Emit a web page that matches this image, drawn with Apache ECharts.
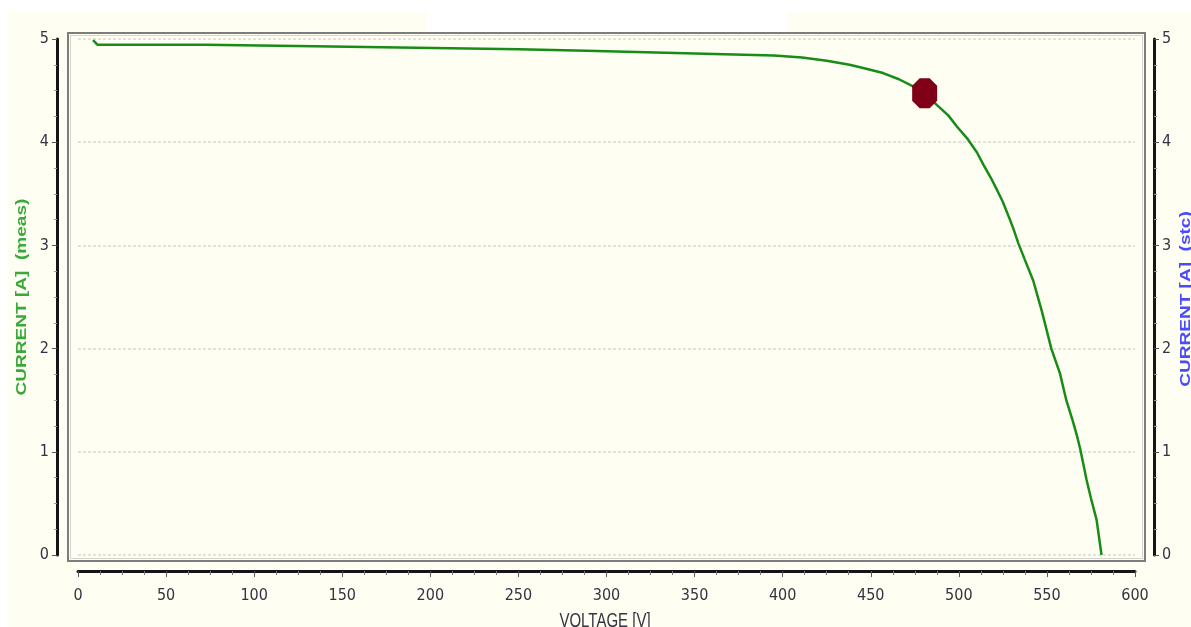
<!DOCTYPE html>
<html>
<head>
<meta charset="utf-8">
<script src="https://cdn.jsdelivr.net/npm/echarts@6/dist/echarts.min.js"></script>
<style>html,body{margin:0;padding:0;background:#fff;}#c{width:1191px;height:627px;}</style>
</head>
<body>
<div id="c"></div>
<script>
// I-V curve data (voltage V, current A)
var voltage = [8.5, 11, 72, 73, 134, 135, 192, 193, 250, 251, 289, 290, 328, 329, 361, 362, 395, 396, 411,
  425, 438, 448, 457, 466, 474, 480.6, 487.6, 494, 499, 504.6, 510.3, 514, 518, 521.6, 525, 529, 531,
  533.8, 537.5, 542.2, 547, 552.5, 557.4, 561, 564.5, 567, 569, 572.5, 575, 578.2, 581];
var current = [4.99, 4.945, 4.945, 4.93, 4.93, 4.915, 4.915, 4.90, 4.90, 4.885, 4.885, 4.87, 4.87, 4.855, 4.855, 4.84, 4.84, 4.825, 4.82,
  4.79, 4.75, 4.71, 4.67, 4.61, 4.54, 4.474, 4.36, 4.26, 4.15, 4.04, 3.90, 3.78, 3.66, 3.54, 3.42, 3.25, 3.16,
  3.02, 2.86, 2.66, 2.37, 2.0, 1.76, 1.50, 1.31, 1.16, 1.02, 0.73, 0.55, 0.34, 0.0];
var mppVoltage = [480.6];
var mppCurrent = [4.474];
var xTicks = {min: 0, max: 600, step: 50};
var yTicks = {min: 0, max: 5, step: 1};
var xTitle = 'VOLTAGE [V]';
var yTitleLeft = 'CURRENT [A]  (meas)';
var yTitleRight = 'CURRENT [A]  (stc)';

var curveData = voltage.map(function (v, i) { return [v, current[i]]; });
var mppData = mppVoltage.map(function (v, i) { return [v, mppCurrent[i]]; });

var FONT = "'DejaVu Sans Condensed', 'Liberation Sans', sans-serif";
var labelColor = '#333342';

var chart = echarts.init(document.getElementById('c'), null, {renderer: 'canvas'});
var yBase = {
  type: 'value', min: yTicks.min, max: yTicks.max, interval: yTicks.step,
  axisLine: {show: true, onZero: false, lineStyle: {color: '#151515', width: 3}},
  axisTick: {show: true, length: 5, lineStyle: {color: '#555', width: 1}},
  minorTick: {show: true, splitNumber: 4, length: 3, lineStyle: {color: '#999', width: 1}},
  axisLabel: {color: labelColor, fontFamily: FONT, fontSize: 16, margin: 8}
};
chart.setOption({
  backgroundColor: '#ffffff',
  animation: false,
  graphic: [
    {type: 'rect', z: -10, shape: {x: 7, y: 12, width: 1184, height: 615}, style: {fill: '#fefef2'}},
    {type: 'rect', z: -9, shape: {x: 427, y: 0, width: 360, height: 33}, style: {fill: '#ffffff'}},
    {type: 'rect', z: -8, shape: {x: 68, y: 33, width: 1077, height: 528}, style: {fill: 'none', stroke: '#7d7d7d', lineWidth: 2}},
    {type: 'rect', z: -8, shape: {x: 70.5, y: 35.5, width: 1072, height: 523}, style: {fill: 'none', stroke: '#d5d5ce', lineWidth: 1}},
    {type: 'text', z: 10, x: 22, y: 297, rotation: Math.PI / 2, scaleX: 1.36,
      style: {text: yTitleLeft, font: "bold 14px 'Liberation Sans', Arial, sans-serif", fill: '#3aa83a', align: 'center', verticalAlign: 'middle'}},
    {type: 'text', z: 10, x: 1186, y: 299, rotation: Math.PI / 2, scaleX: 1.36,
      style: {text: yTitleRight, font: "bold 14px 'Liberation Sans', Arial, sans-serif", fill: '#4a4aff', align: 'center', verticalAlign: 'middle'}},
    {type: 'text', z: 10, x: 605, y: 611, scaleY: 1.38,
      style: {text: xTitle, font: "15px 'Liberation Sans', Arial, sans-serif", fill: labelColor, align: 'center', verticalAlign: 'top'}}
  ],
  grid: {left: 78, right: 56, top: 39, bottom: 72, containLabel: false, outerBoundsMode: 'none'},
  xAxis: {
    type: 'value', min: xTicks.min, max: xTicks.max, interval: xTicks.step,
    offset: 16,
    axisLine: {show: true, onZero: false, lineStyle: {color: '#151515', width: 3}},
    axisTick: {show: true, length: 6, lineStyle: {color: '#555', width: 1}},
    minorTick: {show: true, splitNumber: 4, length: 4, lineStyle: {color: '#777', width: 1}},
    splitLine: {show: false},
    axisLabel: {color: labelColor, fontFamily: FONT, fontSize: 16, margin: 17}
  },
  yAxis: [
    Object.assign({}, yBase, {
      position: 'left', offset: 21,
      splitLine: {show: true, lineStyle: {color: '#d9d9d2', width: 1.5, type: [3, 2]}}
    }),
    Object.assign({}, yBase, {
      position: 'right', offset: 19,
      splitLine: {show: false}
    })
  ],
  series: [
    {
      type: 'line', data: curveData, yAxisIndex: 0, showSymbol: false, smooth: false,
      lineStyle: {color: '#178c17', width: 2.5}, z: 3
    },
    {
      type: 'scatter', data: mppData, yAxisIndex: 0,
      symbol: 'path://M3,0 L7,0 L10,3 L10,9 L7,12 L3,12 L0,9 L0,3 Z',
      symbolSize: [25, 30], itemStyle: {color: '#800018', opacity: 1}, z: 5
    }
  ]
});
</script>
</body>
</html>
